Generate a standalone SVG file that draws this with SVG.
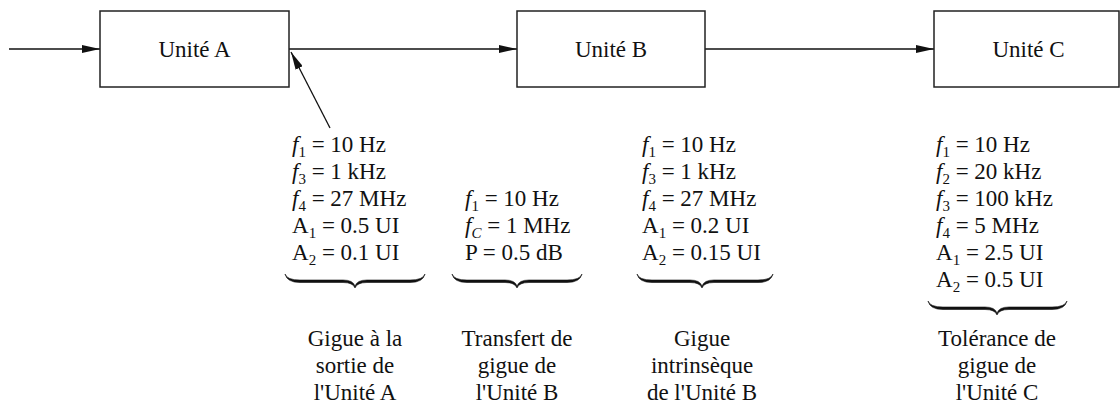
<svg xmlns="http://www.w3.org/2000/svg" width="1120" height="408" viewBox="0 0 1120 408">
<style>
text{font-family:"Liberation Serif","Times New Roman",serif;font-size:23px;fill:#111}
.box{fill:#fff;stroke:#222;stroke-width:1.5}
.ln{stroke:#111;stroke-width:1.3;fill:none}
.br{stroke:#111;stroke-width:0.6;fill:#111}
.it{font-style:italic}
.sb{font-size:15px}
.lab{text-anchor:middle}
.ctr{text-anchor:middle}
</style>
<defs>
<marker id="ah" markerUnits="userSpaceOnUse" markerWidth="18" markerHeight="8" refX="18" refY="4" orient="auto">
<path d="M0,0 L18,4 L0,8 z" fill="#111"/>
</marker>
</defs>
<g id="connectors">
<line class="ln" x1="9" y1="49" x2="100" y2="49" marker-end="url(#ah)"/>
<line class="ln" x1="289" y1="49" x2="517" y2="49" marker-end="url(#ah)"/>
<line class="ln" x1="705" y1="49" x2="934" y2="49" marker-end="url(#ah)"/>
<line class="ln" x1="330" y1="128" x2="291" y2="52" marker-end="url(#ah)"/>
</g>
<g id="unitA">
<rect class="box" x="100" y="11" width="189" height="76"/>
<text class="ctr" x="194.5" y="57">Unité A</text>
</g>
<g id="unitB">
<rect class="box" x="517" y="11" width="188" height="76"/>
<text class="ctr" x="611" y="57">Unité B</text>
</g>
<g id="unitC">
<rect class="box" x="934" y="11" width="185" height="76"/>
<text class="ctr" x="1028.5" y="57">Unité C</text>
</g>
<g id="paramsA">
<text x="292" y="152"><tspan class="it">f</tspan><tspan class="sb" dy="5">1</tspan><tspan dy="-5"> = 10 Hz</tspan></text>
<text x="292" y="179"><tspan class="it">f</tspan><tspan class="sb" dy="5">3</tspan><tspan dy="-5"> = 1 kHz</tspan></text>
<text x="292" y="206"><tspan class="it">f</tspan><tspan class="sb" dy="5">4</tspan><tspan dy="-5"> = 27 MHz</tspan></text>
<text x="292" y="233">A<tspan class="sb" dy="5">1</tspan><tspan dy="-5"> = 0.5 UI</tspan></text>
<text x="292" y="260">A<tspan class="sb" dy="5">2</tspan><tspan dy="-5"> = 0.1 UI</tspan></text>
<path class="br" d="M285,274 Q287,280 300,280 L343,280 Q353,280 355,286 Q357,280 367,280 L410,280 Q423,280 425,274 Q423,282.5 410,282.5 L367,282.5 Q357,282.5 355,288 Q353,282.5 343,282.5 L300,282.5 Q287,282.5 285,274 Z"/>
<text class="lab" x="355" y="346">Gigue à la</text>
<text class="lab" x="355" y="373">sortie de</text>
<text class="lab" x="355" y="400">l'Unité A</text>
</g>
<g id="paramsB-transfer">
<text x="465" y="206"><tspan class="it">f</tspan><tspan class="sb" dy="5">1</tspan><tspan dy="-5"> = 10 Hz</tspan></text>
<text x="465" y="233"><tspan class="it">f</tspan><tspan class="sb it" dy="5">C</tspan><tspan dy="-5"> = 1 MHz</tspan></text>
<text x="465" y="260">P = 0.5 dB</text>
<path class="br" d="M452,274 Q454,280 467,280 L505,280 Q515,280 517,286 Q519,280 529,280 L567,280 Q580,280 582,274 Q580,282.5 567,282.5 L529,282.5 Q519,282.5 517,288 Q515,282.5 505,282.5 L467,282.5 Q454,282.5 452,274 Z"/>
<text class="lab" x="517" y="346">Transfert de</text>
<text class="lab" x="517" y="373">gigue de</text>
<text class="lab" x="517" y="400">l'Unité B</text>
</g>
<g id="paramsB-intrinsic">
<text x="642" y="152"><tspan class="it">f</tspan><tspan class="sb" dy="5">1</tspan><tspan dy="-5"> = 10 Hz</tspan></text>
<text x="642" y="179"><tspan class="it">f</tspan><tspan class="sb" dy="5">3</tspan><tspan dy="-5"> = 1 kHz</tspan></text>
<text x="642" y="206"><tspan class="it">f</tspan><tspan class="sb" dy="5">4</tspan><tspan dy="-5"> = 27 MHz</tspan></text>
<text x="642" y="233">A<tspan class="sb" dy="5">1</tspan><tspan dy="-5"> = 0.2 UI</tspan></text>
<text x="642" y="260">A<tspan class="sb" dy="5">2</tspan><tspan dy="-5"> = 0.15 UI</tspan></text>
<path class="br" d="M637,274 Q639,280 652,280 L690,280 Q700,280 702,286 Q704,280 714,280 L758,280 Q771,280 773,274 Q771,282.5 758,282.5 L714,282.5 Q704,282.5 702,288 Q700,282.5 690,282.5 L652,282.5 Q639,282.5 637,274 Z"/>
<text class="lab" x="702" y="346">Gigue</text>
<text class="lab" x="702" y="373">intrinsèque</text>
<text class="lab" x="702" y="400">de l'Unité B</text>
</g>
<g id="paramsC">
<text x="936" y="152"><tspan class="it">f</tspan><tspan class="sb" dy="5">1</tspan><tspan dy="-5"> = 10 Hz</tspan></text>
<text x="936" y="179"><tspan class="it">f</tspan><tspan class="sb" dy="5">2</tspan><tspan dy="-5"> = 20 kHz</tspan></text>
<text x="936" y="206"><tspan class="it">f</tspan><tspan class="sb" dy="5">3</tspan><tspan dy="-5"> = 100 kHz</tspan></text>
<text x="936" y="233"><tspan class="it">f</tspan><tspan class="sb" dy="5">4</tspan><tspan dy="-5"> = 5 MHz</tspan></text>
<text x="936" y="260">A<tspan class="sb" dy="5">1</tspan><tspan dy="-5"> = 2.5 UI</tspan></text>
<text x="936" y="287">A<tspan class="sb" dy="5">2</tspan><tspan dy="-5"> = 0.5 UI</tspan></text>
<path class="br" d="M928,301 Q930,307 943,307 L985,307 Q995,307 997,313 Q999,307 1009,307 L1052,307 Q1065,307 1067,301 Q1065,309.5 1052,309.5 L1009,309.5 Q999,309.5 997,315 Q995,309.5 985,309.5 L943,309.5 Q930,309.5 928,301 Z"/>
<text class="lab" x="997" y="346">Tolérance de</text>
<text class="lab" x="997" y="373">gigue de</text>
<text class="lab" x="997" y="400">l'Unité C</text>
</g>
</svg>
